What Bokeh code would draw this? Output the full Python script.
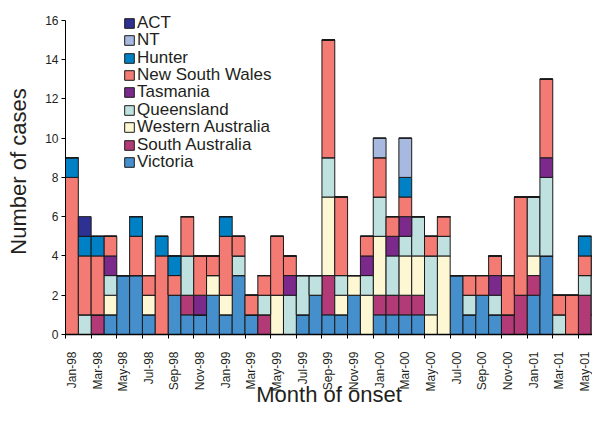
from bokeh.plotting import figure
from bokeh.models import Range1d, FixedTicker, Legend, LegendItem, ColumnDataSource
from bokeh.embed import file_html
from bokeh.resources import INLINE

months = ["Jan-98", "Feb-98", "Mar-98", "Apr-98", "May-98", "Jun-98", "Jul-98", "Aug-98",
          "Sep-98", "Oct-98", "Nov-98", "Dec-98", "Jan-99", "Feb-99", "Mar-99", "Apr-99",
          "May-99", "Jun-99", "Jul-99", "Aug-99", "Sep-99", "Oct-99", "Nov-99", "Dec-99",
          "Jan-00", "Feb-00", "Mar-00", "Apr-00", "May-00", "Jun-00", "Jul-00", "Aug-00",
          "Sep-00", "Oct-00", "Nov-00", "Dec-00", "Jan-01", "Feb-01", "Mar-01", "Apr-01",
          "May-01", "Jun-01"]

# stack order bottom -> top
regions = ["Victoria", "South Australia", "Western Australia", "Queensland", "Tasmania",
           "New South Wales", "Hunter", "NT", "ACT"]

victoria = [0, 0, 0, 1, 3, 3, 1, 0, 2, 1, 1, 2, 1, 3, 1, 0, 0, 0, 1, 2, 1, 1, 2, 0,
            1, 1, 1, 1, 0, 0, 3, 1, 2, 1, 0, 0, 2, 4, 0, 0, 0, 0]
south_australia = [0, 0, 1, 0, 0, 0, 0, 0, 0, 1, 0, 0, 0, 0, 0, 1, 0, 0, 0, 0, 2, 0, 0, 0,
                   1, 1, 1, 1, 0, 0, 0, 0, 0, 0, 1, 2, 1, 0, 0, 0, 2, 0]
western_australia = [0, 0, 0, 1, 0, 0, 1, 0, 0, 0, 0, 1, 1, 0, 0, 0, 2, 0, 0, 0, 4, 1, 1, 2,
                     3, 0, 2, 2, 1, 4, 0, 0, 0, 0, 0, 0, 1, 0, 0, 0, 0, 1]
queensland = [0, 1, 0, 1, 0, 0, 0, 0, 0, 2, 0, 0, 0, 1, 0, 1, 0, 2, 2, 1, 2, 1, 0, 1,
              2, 2, 1, 2, 3, 1, 0, 1, 0, 1, 0, 0, 3, 4, 1, 0, 1, 3]
tasmania = [0, 0, 0, 1, 0, 0, 0, 0, 0, 0, 1, 0, 0, 0, 0, 0, 0, 1, 0, 0, 0, 0, 0, 1,
            0, 1, 1, 0, 0, 0, 0, 0, 0, 1, 0, 0, 0, 1, 0, 0, 0, 0]
new_south_wales = [8, 3, 3, 1, 0, 2, 1, 4, 1, 2, 2, 1, 3, 1, 1, 1, 3, 1, 0, 0, 6, 4, 0, 1,
                   2, 1, 1, 0, 1, 1, 0, 1, 1, 1, 2, 5, 0, 4, 1, 2, 1, 0]
hunter = [1, 1, 1, 0, 0, 1, 0, 1, 1, 0, 0, 0, 1, 0, 0, 0, 0, 0, 0, 0, 0, 0, 0, 0,
          0, 0, 1, 0, 0, 0, 0, 0, 0, 0, 0, 0, 0, 0, 0, 0, 1, 0]
nt = [0, 0, 0, 0, 0, 0, 0, 0, 0, 0, 0, 0, 0, 0, 0, 0, 0, 0, 0, 0, 0, 0, 0, 0,
      1, 0, 2, 0, 0, 0, 0, 0, 0, 0, 0, 0, 0, 0, 0, 0, 0, 0]
act = [0, 1, 0, 0, 0, 0, 0, 0, 0, 0, 0, 0, 0, 0, 0, 0, 0, 0, 0, 0, 0, 0, 0, 0,
       0, 0, 0, 0, 0, 0, 0, 0, 0, 0, 0, 0, 0, 0, 0, 0, 0, 0]

colors = ["#458FCD", "#B23A77", "#FDF8D3", "#BFE2E0", "#7B2A8C",
          "#F37B74", "#0081C6", "#A7B9DE", "#2E3192"]

y_ticks = [0, 2, 4, 6, 8, 10, 12, 14, 16]

FONT = "Liberation Sans"
TXT = "#231F20"

src = ColumnDataSource(dict(
    x=list(range(len(months))),
    Victoria=victoria, **{"South Australia": south_australia,
                          "Western Australia": western_australia,
                          "Queensland": queensland, "Tasmania": tasmania,
                          "New South Wales": new_south_wales, "Hunter": hunter,
                          "NT": nt, "ACT": act}))

p = figure(width=592, height=422, output_backend="svg", toolbar_location=None,
           x_range=Range1d(-0.5, 40.6), y_range=Range1d(0, 16.6),
           min_border_left=65, min_border_right=0, min_border_top=8, min_border_bottom=88)

rs = p.vbar_stack(regions, x="x", width=1.0, source=src, fill_color=colors,
                  line_color="#1a1a1a", line_width=1)

# one single-row legend per series, stacked top-down (ACT first) at a fixed row pitch
ROW_PITCH = 17.4
LEGEND_TOP_Y = 301.3  # screen px above the frame bottom for the first (ACT) row
for k, (name, r) in enumerate(reversed(list(zip(regions, rs)))):
    lg = Legend(items=[LegendItem(label=name, renderers=[r])],
                location=(58, LEGEND_TOP_Y - k * ROW_PITCH), padding=0, margin=0, spacing=0,
                glyph_width=12, glyph_height=12, label_height=12, label_standoff=2,
                label_text_font=FONT, label_text_font_size="17px", label_text_color=TXT,
                background_fill_alpha=0, border_line_color=None)
    p.add_layout(lg)

p.outline_line_color = None
p.xgrid.grid_line_color = None
p.ygrid.grid_line_color = None
p.background_fill_color = "white"
p.border_fill_color = "white"

# x axis
xa = p.xaxis[0]
label_pos = list(range(0, len(months), 2))
xa.ticker = FixedTicker(ticks=label_pos, minor_ticks=[i - 0.5 for i in label_pos])
xa.major_label_overrides = {i: months[i] for i in label_pos}
xa.major_label_orientation = 1.5707963
xa.major_tick_line_color = None
xa.major_tick_out = 4
xa.major_tick_in = 0
xa.minor_tick_line_color = "black"
xa.minor_tick_out = 4
xa.minor_tick_in = 0
xa.axis_line_color = "black"
xa.axis_line_width = 1.5
xa.major_label_text_font = FONT
xa.major_label_text_font_size = "12px"
xa.major_label_text_color = TXT
xa.major_label_standoff = 13
xa.axis_label = "Month of onset"
xa.axis_label_text_font = FONT
xa.axis_label_text_font_size = "22px"
xa.axis_label_text_font_style = "normal"
xa.axis_label_text_color = TXT
xa.axis_label_standoff = -13

# y axis
ya = p.yaxis[0]
ya.ticker = FixedTicker(ticks=y_ticks)
ya.bounds = (0, 16)
ya.minor_tick_line_color = None
ya.major_tick_out = 4
ya.major_tick_in = 0
ya.major_tick_line_color = "black"
ya.axis_line_color = "black"
ya.major_label_text_font = FONT
ya.major_label_text_font_size = "12px"
ya.major_label_text_color = TXT
ya.major_label_standoff = 3
ya.axis_label = "Number of cases"
ya.axis_label_text_font = FONT
ya.axis_label_text_font_size = "22px"
ya.axis_label_text_font_style = "normal"
ya.axis_label_text_color = TXT
ya.axis_label_standoff = 11

open("out.html", "w").write(file_html(p, INLINE))
